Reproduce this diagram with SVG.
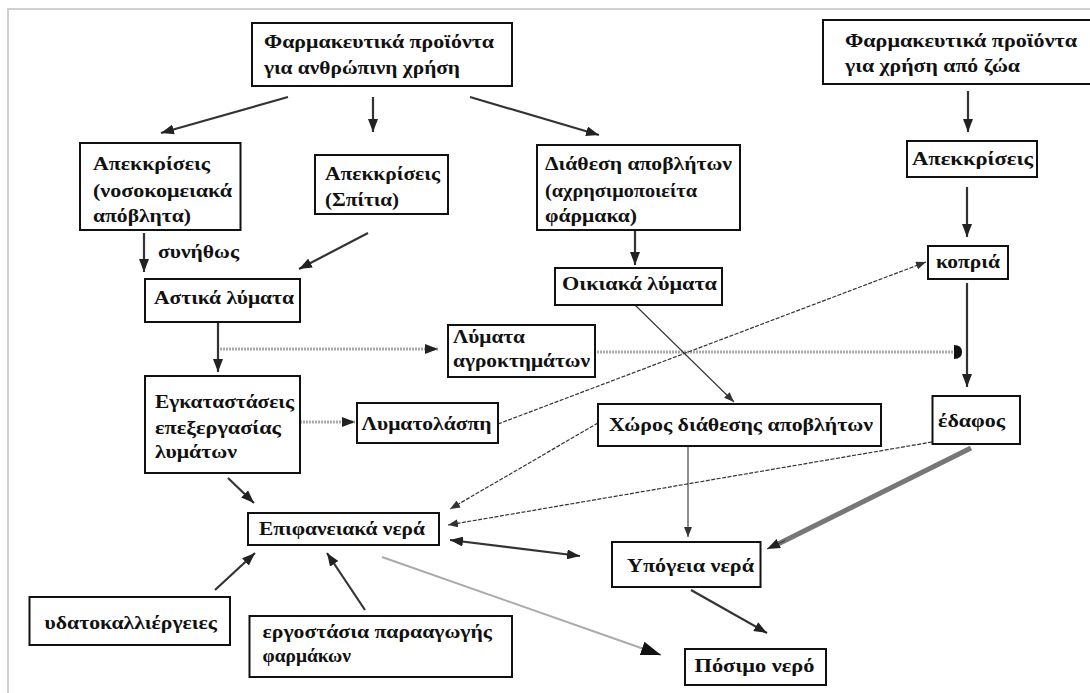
<svg xmlns="http://www.w3.org/2000/svg" width="1090" height="693" viewBox="0 0 1090 693">
<style>
.box{fill:#fff;stroke:#111;stroke-width:2}
.t{font-family:"Liberation Serif","Times New Roman",serif;font-weight:bold;font-size:19px;fill:#111}
.c{fill:none;stroke:#333;stroke-width:2.2}
.thin{fill:none;stroke:#333;stroke-width:1.1}
.dash{fill:none;stroke:#333;stroke-width:1.2;stroke-dasharray:4 1.5}
.dot{fill:none;stroke:#aaa;stroke-width:3;stroke-dasharray:2 1}
.thick{fill:none;stroke:#777;stroke-width:5}
.light{fill:none;stroke:#aaa;stroke-width:2}
</style>
<defs>
<marker id="a" markerUnits="userSpaceOnUse" markerWidth="13" markerHeight="10" refX="13" refY="5" orient="auto-start-reverse"><path d="M0,0 L13,5 L0,10 z" fill="#222"/></marker>
<marker id="s" markerUnits="userSpaceOnUse" markerWidth="10" markerHeight="8" refX="10" refY="4" orient="auto"><path d="M0,0 L10,4 L0,8 z" fill="#333"/></marker>
<marker id="L" markerUnits="userSpaceOnUse" markerWidth="20" markerHeight="14" refX="20" refY="7" orient="auto"><path d="M0,0 L20,7 L0,14 z" fill="#111"/></marker>
<marker id="r" markerUnits="userSpaceOnUse" markerWidth="9" markerHeight="14" refX="8" refY="7" orient="auto"><path d="M0,0 Q8,0 8,7 Q8,14 0,14 z" fill="#111"/></marker>
</defs>
<rect x="0" y="0" width="1090" height="693" fill="#fff"/>
<path d="M8,693 L8,9 L1090,9" fill="none" stroke="#d0d0d0" stroke-width="2"/>
<g id="connectors">
<line class="c" x1="288" y1="97" x2="161" y2="133" marker-end="url(#a)"/>
<line class="c" x1="373" y1="97" x2="373" y2="132" marker-end="url(#a)"/>
<line class="c" x1="470" y1="97" x2="599" y2="135" marker-end="url(#a)"/>
<line class="c" x1="144" y1="233" x2="144" y2="272" marker-end="url(#a)"/>
<line class="c" x1="368" y1="233" x2="299" y2="269" marker-end="url(#a)"/>
<line class="c" x1="635" y1="230" x2="635" y2="265" marker-end="url(#a)"/>
<line class="c" x1="968" y1="91" x2="968" y2="132" marker-end="url(#a)"/>
<line class="c" x1="967" y1="187" x2="967" y2="237" marker-end="url(#a)"/>
<line class="c" x1="218" y1="322" x2="218" y2="372" marker-end="url(#a)"/>
<line class="dot" x1="220" y1="349" x2="438" y2="349" marker-end="url(#a)"/>
<line class="dot" x1="597" y1="352" x2="962" y2="352" marker-end="url(#r)"/>
<line class="c" x1="967" y1="283" x2="967" y2="387" marker-end="url(#a)"/>
<line class="dot" x1="300" y1="422" x2="355" y2="422" marker-end="url(#a)"/>
<line class="dash" x1="498" y1="424" x2="926" y2="262" marker-end="url(#s)"/>
<line class="thin" x1="635" y1="305" x2="734" y2="402" marker-end="url(#s)"/>
<line class="thin" x1="688" y1="446" x2="688" y2="537" marker-end="url(#s)"/>
<line class="dash" x1="598" y1="423" x2="450" y2="509" marker-end="url(#s)"/>
<line class="dash" x1="932" y1="442" x2="448" y2="525" marker-end="url(#s)"/>
<line class="thick" x1="971" y1="448" x2="776" y2="545"/>
<line x1="785" y1="540.5" x2="767" y2="549" stroke="#333" stroke-width="1" marker-end="url(#a)"/>
<line class="c" x1="450" y1="540" x2="580" y2="556" stroke-width="2.6" marker-start="url(#a)" marker-end="url(#a)"/>
<line class="c" x1="691" y1="590" x2="767" y2="633" marker-end="url(#a)"/>
<line class="light" x1="382" y1="557" x2="661" y2="655" marker-end="url(#L)"/>
<line class="c" x1="228" y1="478" x2="254" y2="503" marker-end="url(#a)"/>
<line class="c" x1="215" y1="590" x2="255" y2="553" marker-end="url(#a)"/>
<line class="c" x1="365" y1="610" x2="327" y2="553" marker-end="url(#a)"/>
</g>
<g id="n1"><rect class="box" x="252" y="23" width="260" height="63"/><text class="t" x="264" y="48" textLength="230" lengthAdjust="spacingAndGlyphs">Φαρμακευτικά προϊόντα</text><text class="t" x="264" y="74" textLength="196" lengthAdjust="spacingAndGlyphs">για ανθρώπινη χρήση</text></g>
<g id="n2"><rect class="box" x="80" y="143" width="160.5" height="87"/><text class="t" x="93" y="170" textLength="117" lengthAdjust="spacingAndGlyphs">Απεκκρίσεις</text><text class="t" x="93" y="197" textLength="139" lengthAdjust="spacingAndGlyphs">(νοσοκομειακά</text><text class="t" x="93" y="222" textLength="98" lengthAdjust="spacingAndGlyphs">απόβλητα)</text></g>
<g id="n3"><rect class="box" x="315" y="155" width="133" height="59"/><text class="t" x="325" y="180" textLength="115" lengthAdjust="spacingAndGlyphs">Απεκκρίσεις</text><text class="t" x="325" y="206" textLength="74" lengthAdjust="spacingAndGlyphs">(Σπίτια)</text></g>
<g id="label-synithos"><text class="t" x="158" y="258" textLength="81" lengthAdjust="spacingAndGlyphs">συνήθως</text></g>
<g id="n4"><rect class="box" x="145" y="279" width="155" height="43"/><text class="t" x="154" y="304" textLength="140" lengthAdjust="spacingAndGlyphs">Αστικά λύματα</text></g>
<g id="n5"><rect class="box" x="448" y="325" width="147" height="52"/><text class="t" x="453" y="343" textLength="72" lengthAdjust="spacingAndGlyphs">Λύματα</text><text class="t" x="453" y="367" textLength="137" lengthAdjust="spacingAndGlyphs">αγροκτημάτων</text></g>
<g id="n6"><rect class="box" x="537" y="145" width="203" height="85"/><text class="t" x="545" y="170" textLength="187" lengthAdjust="spacingAndGlyphs">Διάθεση αποβλήτων</text><text class="t" x="545" y="197" textLength="152" lengthAdjust="spacingAndGlyphs">(αχρησιμοποιείτα</text><text class="t" x="545" y="222" textLength="92" lengthAdjust="spacingAndGlyphs">φάρμακα)</text></g>
<g id="n7"><rect class="box" x="555" y="268" width="167" height="37"/><text class="t" x="562" y="290" textLength="155" lengthAdjust="spacingAndGlyphs">Οικιακά λύματα</text></g>
<g id="n8"><rect class="box" x="823" y="20" width="277" height="64"/><text class="t" x="845" y="47" textLength="232" lengthAdjust="spacingAndGlyphs">Φαρμακευτικά προϊόντα</text><text class="t" x="845" y="72" textLength="175" lengthAdjust="spacingAndGlyphs">για χρήση από ζώα</text></g>
<g id="n9"><rect class="box" x="907" y="141" width="130" height="36"/><text class="t" x="912" y="165" textLength="121" lengthAdjust="spacingAndGlyphs">Απεκκρίσεις</text></g>
<g id="n10"><rect class="box" x="928" y="246" width="80" height="33"/><text class="t" x="936" y="268" textLength="64" lengthAdjust="spacingAndGlyphs">κοπριά</text></g>
<g id="n11"><rect class="box" x="598" y="404" width="283" height="42"/><text class="t" x="609" y="431" textLength="264" lengthAdjust="spacingAndGlyphs">Χώρος διάθεσης αποβλήτων</text></g>
<g id="n12"><rect class="box" x="932.5" y="396" width="87.5" height="48"/><text class="t" x="938" y="427" textLength="67" lengthAdjust="spacingAndGlyphs">έδαφος</text></g>
<g id="n13"><rect class="box" x="612" y="542" width="148.5" height="45"/><text class="t" x="627" y="572" textLength="127" lengthAdjust="spacingAndGlyphs">Υπόγεια νερά</text></g>
<g id="n14"><rect class="box" x="685" y="649" width="141" height="36"/><text class="t" x="694.5" y="672" textLength="120" lengthAdjust="spacingAndGlyphs">Πόσιμο νερό</text></g>
<g id="n15"><rect class="box" x="145" y="376" width="155" height="97"/><text class="t" x="155" y="408" textLength="139" lengthAdjust="spacingAndGlyphs">Εγκαταστάσεις</text><text class="t" x="155" y="434" textLength="126" lengthAdjust="spacingAndGlyphs">επεξεργασίας</text><text class="t" x="155" y="458" textLength="82" lengthAdjust="spacingAndGlyphs">λυμάτων</text></g>
<g id="n16"><rect class="box" x="357" y="403" width="141" height="40"/><text class="t" x="361.5" y="430" textLength="130" lengthAdjust="spacingAndGlyphs">Λυματολάσπη</text></g>
<g id="n17"><rect class="box" x="248" y="513" width="191" height="32"/><text class="t" x="259" y="535" textLength="166" lengthAdjust="spacingAndGlyphs">Επιφανειακά νερά</text></g>
<g id="n18"><rect class="box" x="29.5" y="597" width="200.5" height="48"/><text class="t" x="44.5" y="629" textLength="172.5" lengthAdjust="spacingAndGlyphs">υδατοκαλλιέργειες</text></g>
<g id="n19"><rect class="box" x="249.5" y="616" width="262.5" height="61"/><text class="t" x="262.5" y="638" textLength="229.5" lengthAdjust="spacingAndGlyphs">εργοστάσια παρααγωγής</text><text class="t" x="262.5" y="662" textLength="88.5" lengthAdjust="spacingAndGlyphs">φαρμάκων</text></g>
</svg>
